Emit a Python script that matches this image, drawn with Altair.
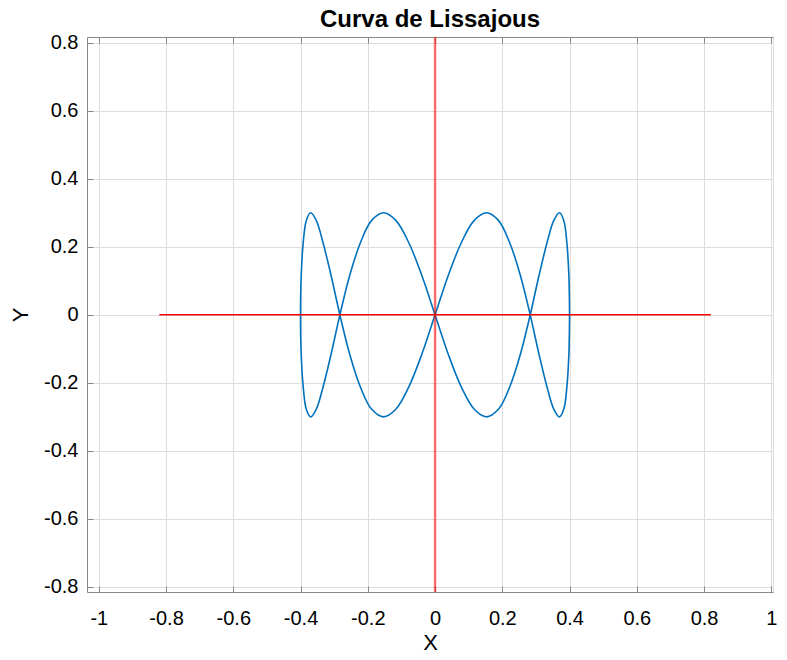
import altair as alt
import pandas as pd

# Lissajous curve points (traced in order)
curve_x = [0.400, 0.398, 0.392, 0.383, 0.370, 0.353, 0.333, 0.309, 0.283, 0.254, 0.222, 0.189, 0.153, 0.116, 0.078, 0.039, 0.000,
           -0.039, -0.078, -0.116, -0.153, -0.189, -0.222, -0.254, -0.283, -0.309, -0.333, -0.353, -0.370, -0.383, -0.392, -0.398, -0.400,
           -0.398, -0.392, -0.383, -0.370, -0.353, -0.333, -0.309, -0.283, -0.254, -0.222, -0.189, -0.153, -0.116, -0.078, -0.039, 0.000,
           0.039, 0.078, 0.116, 0.153, 0.189, 0.222, 0.254, 0.283, 0.309, 0.333, 0.353, 0.370, 0.383, 0.392, 0.398, 0.400]
curve_y = [0.000, 0.115, 0.212, 0.277, 0.300, 0.277, 0.212, 0.115, 0.000, -0.115, -0.212, -0.277, -0.300, -0.277, -0.212, -0.115,
           0.000, 0.115, 0.212, 0.277, 0.300, 0.277, 0.212, 0.115, 0.000, -0.115, -0.212, -0.277, -0.300, -0.277, -0.212, -0.115,
           0.000, 0.115, 0.212, 0.277, 0.300, 0.277, 0.212, 0.115, 0.000, -0.115, -0.212, -0.277, -0.300, -0.277, -0.212, -0.115,
           0.000, 0.115, 0.212, 0.277, 0.300, 0.277, 0.212, 0.115, 0.000, -0.115, -0.212, -0.277, -0.300, -0.277, -0.212, -0.115,
           0.000]

# red reference axes
hline_x = [-0.82, 0.82]
hline_y = [0.0, 0.0]
vline_x = [0.0, 0.0]
vline_y = [-0.82, 0.82]

x_ticks = [-1, -0.8, -0.6, -0.4, -0.2, 0, 0.2, 0.4, 0.6, 0.8, 1]
y_ticks = [-0.8, -0.6, -0.4, -0.2, 0, 0.2, 0.4, 0.6, 0.8]
x_domain = [-1.035, 1.005]
y_domain = [-0.815, 0.817]

curve_df = pd.DataFrame({"x": curve_x, "y": curve_y, "i": list(range(len(curve_x)))})
h_df = pd.DataFrame({"x": hline_x, "y": hline_y, "i": [0, 1]})
v_df = pd.DataFrame({"x": vline_x, "y": vline_y, "i": [0, 1]})

FONT = "Liberation Sans"
TXT = "#262626"
HYPHEN = "replace(datum.label, '\u2212', '-')"

x_scale = alt.Scale(domain=x_domain, nice=False, zero=False)
y_scale = alt.Scale(domain=y_domain, nice=False, zero=False)

x_axis = alt.Axis(values=x_ticks, title="X", tickSize={"expr": "-6"}, labelPadding=22,
                  titlePadding=4, format="~g", labelExpr=HYPHEN, labelFontSize=20,
                  titleFontSize=22, titleFontWeight="normal")
y_axis = alt.Axis(values=y_ticks, title="Y", tickSize={"expr": "-6"}, labelPadding=15,
                  titlePadding=11, format="~g", labelExpr=HYPHEN, labelFontSize=20,
                  titleFontSize=22, titleFontWeight="normal")

x_axis_top = alt.Axis(values=x_ticks, orient="top", labels=False, title=None, grid=False,
                      tickSize={"expr": "-6"})

curve = alt.Chart(curve_df).mark_line(color="#0072BD", strokeWidth=1.6, interpolate="catmull-rom",
                                      clip=True).encode(
    x=alt.X("x:Q", scale=x_scale, axis=x_axis),
    y=alt.Y("y:Q", scale=y_scale, axis=y_axis),
    order="i:Q",
)

hline = alt.Chart(h_df).mark_line(color="#ff0000", strokeWidth=1.5, clip=True).encode(
    x=alt.X("x:Q", scale=x_scale, axis=x_axis_top),
    y=alt.Y("y:Q", scale=y_scale, axis=None),
    order="i:Q",
)

vline = alt.Chart(v_df).mark_line(color="#ff0000", strokeWidth=2.5, opacity=0.55, clip=True).encode(
    x=alt.X("x:Q", scale=x_scale, axis=None),
    y=alt.Y("y:Q", scale=y_scale, axis=None),
    order="i:Q",
)

chart = alt.layer(curve, vline, hline).resolve_axis(x="independent", y="independent").properties(
    width=686,
    height=555,
    autosize=alt.AutoSizeParams(type="none"),
    padding={"left": 79, "top": 29, "right": 6, "bottom": 60},
    title=alt.TitleParams("Curva de Lissajous", fontSize=24, fontWeight="bold", font=FONT,
                          color="black", anchor="middle", offset=1),
).configure_axis(
    labelFont=FONT,
    titleFont=FONT,
    labelColor=TXT,
    titleColor=TXT,
    tickColor=TXT,
    tickWidth=1,
    domain=True,
    domainColor=TXT,
    domainWidth=1.3,
    gridColor="#e3e3e3",
    gridWidth=1,
).configure_view(
    stroke=None,
).configure(background="white")

chart.save("out.html", embed_options={"renderer": "svg", "actions": False})
